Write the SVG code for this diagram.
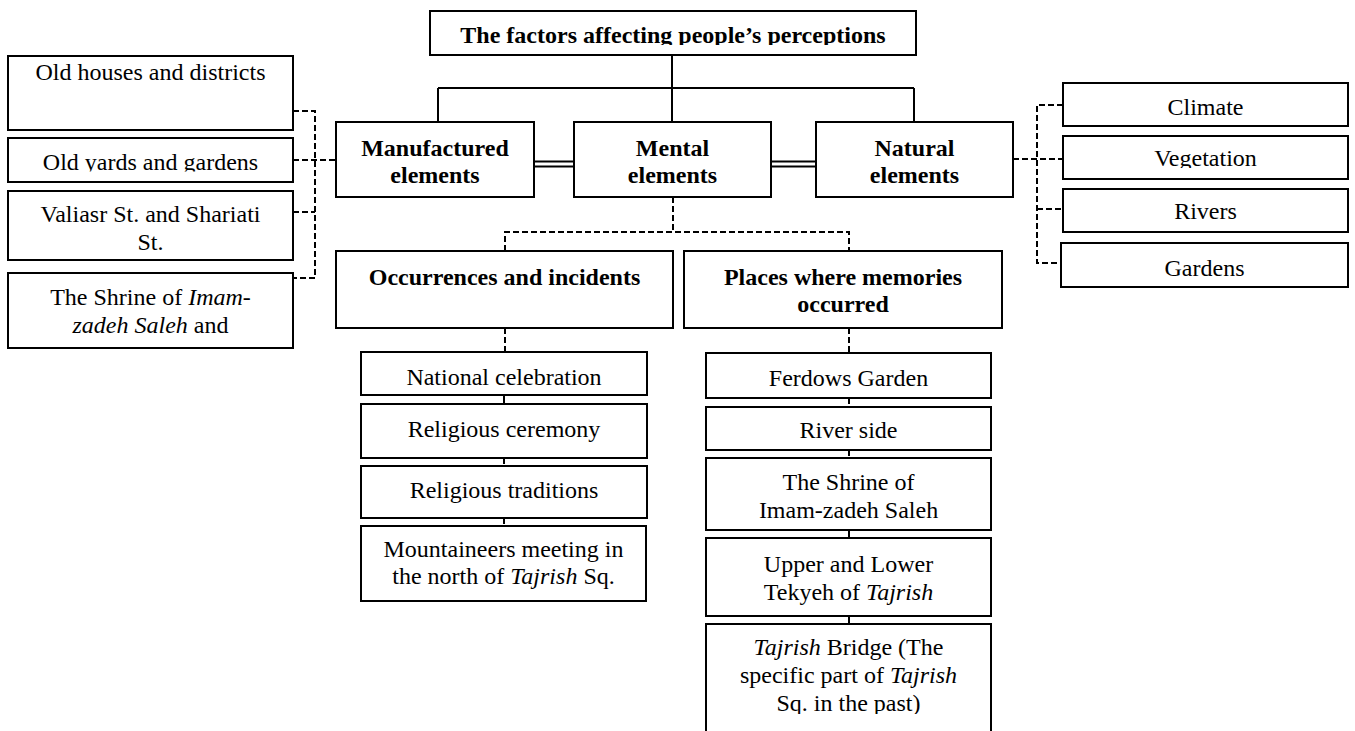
<svg xmlns="http://www.w3.org/2000/svg" width="1355" height="731" viewBox="0 0 1355 731">
<style>
.box{fill:#fff;stroke:#000;stroke-width:2}
.t{font-family:"Liberation Serif","Times New Roman",serif;font-size:24px;fill:#000;text-anchor:middle}
.b{font-weight:bold}
.i{font-style:italic}
.solid{fill:none;stroke:#000;stroke-width:2}
.dash{fill:none;stroke:#000;stroke-width:2;stroke-dasharray:6,3}
</style>
<defs>
<clipPath id="cTitle"><rect x="430" y="11" width="486" height="34"/></clipPath>
<clipPath id="cL2"><rect x="8" y="138" width="285" height="33.5"/></clipPath>
<clipPath id="cL3"><rect x="8" y="191" width="285" height="60"/></clipPath>
<clipPath id="cVeg"><rect x="1063" y="136" width="285" height="32"/></clipPath>
<clipPath id="cShrine"><rect x="706" y="458" width="285" height="61"/></clipPath>
<clipPath id="cBridge"><rect x="706" y="624" width="285" height="90"/></clipPath>
</defs>
<rect width="1355" height="731" fill="#fff"/>
<g id="connectors">
<path class="solid" d="M672 55V123M438 88H914M438 88V123M914 88V122"/>
<path class="solid" d="M534 161.5H574M534 166.5H574M771 161.5H816M771 166.5H816"/>
<path class="dash" d="M293 111H315V278H293M293 160H336M293 212H315"/>
<path class="dash" d="M1013 159H1063M1063 105H1037V263H1061M1037 209H1063"/>
<path class="dash" d="M673 197V232M505 251V232H849V251"/>
<path class="dash" d="M505 328V352M849 328V353"/>
<path class="solid" d="M504 395V404"/>
<path class="dash" d="M504 458V466M504 518V526"/>
<path class="dash" d="M849 398V407M849 450V458"/>
<path class="solid" d="M849 530V538M849 616V624"/>
</g>
<g id="title">
<rect class="box" x="430" y="11" width="486" height="44"/>
<text class="t b" x="673" y="43" clip-path="url(#cTitle)">The factors affecting people’s perceptions</text>
</g>
<g id="manufactured">
<rect class="box" x="336" y="122" width="198" height="75"/>
<text class="t b" x="435" y="156">Manufactured</text>
<text class="t b" x="435" y="183">elements</text>
</g>
<g id="mental">
<rect class="box" x="574" y="122" width="197" height="75"/>
<text class="t b" x="672.5" y="156">Mental</text>
<text class="t b" x="672.5" y="183">elements</text>
</g>
<g id="natural">
<rect class="box" x="816" y="122" width="197" height="75"/>
<text class="t b" x="914.5" y="156">Natural</text>
<text class="t b" x="914.5" y="183">elements</text>
</g>
<g id="old-houses">
<rect class="box" x="8" y="56" width="285" height="74"/>
<text class="t" x="150.5" y="80">Old houses and districts</text>
</g>
<g id="old-yards">
<rect class="box" x="8" y="138" width="285" height="44"/>
<text class="t" x="150.5" y="170" clip-path="url(#cL2)">Old yards and gardens</text>
</g>
<g id="valiasr">
<rect class="box" x="8" y="191" width="285" height="69"/>
<g clip-path="url(#cL3)">
<text class="t" x="150.5" y="222">Valiasr St. and Shariati</text>
<text class="t" x="150.5" y="250">St.</text>
</g>
</g>
<g id="shrine-left">
<rect class="box" x="8" y="273" width="285" height="75"/>
<text class="t" x="150.5" y="305">The Shrine of <tspan class="i">Imam-</tspan></text>
<text class="t" x="150.5" y="333"><tspan class="i">zadeh Saleh</tspan> and</text>
</g>
<g id="climate">
<rect class="box" x="1063" y="83" width="285" height="43"/>
<text class="t" x="1205.5" y="115">Climate</text>
</g>
<g id="vegetation">
<rect class="box" x="1063" y="136" width="285" height="43"/>
<text class="t" x="1205.5" y="166" clip-path="url(#cVeg)">Vegetation</text>
</g>
<g id="rivers">
<rect class="box" x="1063" y="189" width="285" height="43"/>
<text class="t" x="1205.5" y="219">Rivers</text>
</g>
<g id="gardens">
<rect class="box" x="1061" y="243" width="287" height="44"/>
<text class="t" x="1204.5" y="276">Gardens</text>
</g>
<g id="occurrences">
<rect class="box" x="336" y="251" width="337" height="77"/>
<text class="t b" x="504.5" y="285">Occurrences and incidents</text>
</g>
<g id="places">
<rect class="box" x="684" y="251" width="318" height="77"/>
<text class="t b" x="843" y="285">Places where memories</text>
<text class="t b" x="843" y="312">occurred</text>
</g>
<g id="national">
<rect class="box" x="361" y="352" width="286" height="43"/>
<text class="t" x="504" y="385">National celebration</text>
</g>
<g id="ceremony">
<rect class="box" x="361" y="404" width="286" height="54"/>
<text class="t" x="504" y="437">Religious ceremony</text>
</g>
<g id="traditions">
<rect class="box" x="361" y="466" width="286" height="52"/>
<text class="t" x="504" y="498">Religious traditions</text>
</g>
<g id="mountaineers">
<rect class="box" x="361" y="526" width="285" height="75"/>
<text class="t" x="503.5" y="557">Mountaineers meeting in</text>
<text class="t" x="503.5" y="584">the north of <tspan class="i">Tajrish</tspan> Sq.</text>
</g>
<g id="ferdows">
<rect class="box" x="706" y="353" width="285" height="45"/>
<text class="t" x="848.5" y="386">Ferdows Garden</text>
</g>
<g id="river-side">
<rect class="box" x="706" y="407" width="285" height="43"/>
<text class="t" x="848.5" y="438">River side</text>
</g>
<g id="shrine-right">
<rect class="box" x="706" y="458" width="285" height="72"/>
<g clip-path="url(#cShrine)">
<text class="t" x="848.5" y="490">The Shrine of</text>
<text class="t" x="848.5" y="518">Imam-zadeh Saleh</text>
</g>
</g>
<g id="tekyeh">
<rect class="box" x="706" y="538" width="285" height="78"/>
<text class="t" x="848.5" y="572">Upper and Lower</text>
<text class="t" x="848.5" y="600">Tekyeh of <tspan class="i">Tajrish</tspan></text>
</g>
<g id="bridge">
<rect class="box" x="706" y="624" width="285" height="120"/>
<g clip-path="url(#cBridge)">
<text class="t" x="848.5" y="655"><tspan class="i">Tajrish</tspan> Bridge (The</text>
<text class="t" x="848.5" y="683">specific part of <tspan class="i">Tajrish</tspan></text>
<text class="t" x="848.5" y="711">Sq. in the past)</text>
</g>
</g>
</svg>
